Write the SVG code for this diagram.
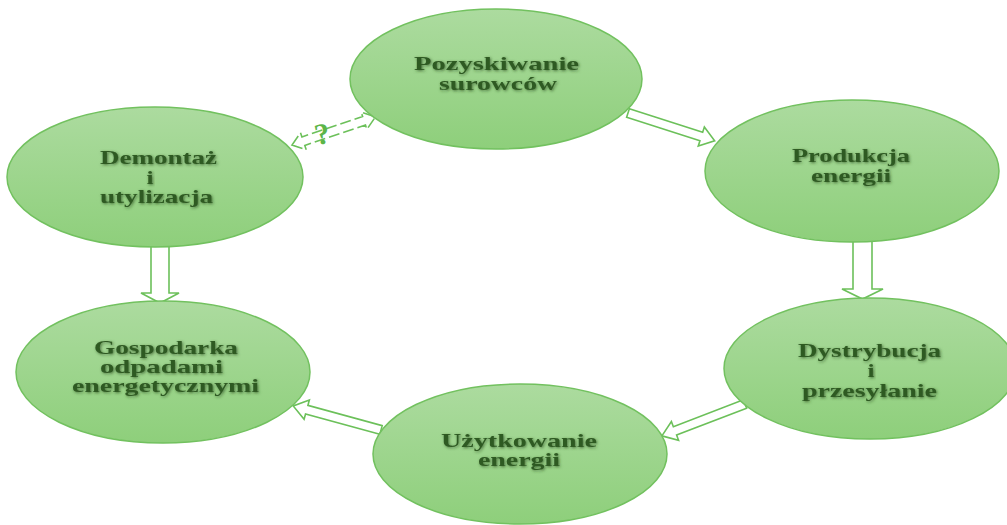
<svg xmlns="http://www.w3.org/2000/svg" width="1007" height="525" viewBox="0 0 1007 525">
<defs>
<linearGradient id="g" x1="0" y1="0" x2="0" y2="1">
<stop offset="0" stop-color="#acdb9f"/>
<stop offset="1" stop-color="#8ecf7b"/>
</linearGradient>
<filter id="sh" x="-10%" y="-30%" width="120%" height="160%">
<feGaussianBlur in="SourceAlpha" stdDeviation="1.4" result="b"/>
<feOffset in="b" dx="0.5" dy="1" result="o"/>
<feFlood flood-color="#2c4f1f" flood-opacity="0.75"/>
<feComposite in2="o" operator="in" result="s"/>
<feMerge><feMergeNode in="s"/><feMergeNode in="SourceGraphic"/></feMerge>
</filter>
</defs>
<style>
.node ellipse{fill:url(#g);stroke:#72c15f;stroke-width:1.5}
.node text{font-family:"Liberation Serif",serif;font-weight:bold;font-size:19px;fill:#2f5a24;text-anchor:middle;filter:url(#sh)}
.arr{fill:#ffffff;stroke:#6cc05a;stroke-width:1.6;stroke-linejoin:miter}
.dash{stroke-dasharray:11 4}
.q{font-family:"Liberation Serif",serif;font-weight:bold;font-size:30px;fill:#5cb548;text-anchor:middle}
</style>
<rect width="1007" height="525" fill="#ffffff"/>
<g id="connectors">
<polygon class="arr" transform="translate(628,113) rotate(17.8)" points="0,-4.5 77,-4.5 77,-10 91,0 77,10 77,4.5 0,4.5"/>
<polygon class="arr" points="853,232 872,232 872,289 883,289 862.5,299 842,289 853,289"/>
<polygon class="arr" transform="translate(745,404) rotate(159)" points="0,-4.5 75,-4.5 75,-10 89,0 75,10 75,4.5 0,4.5"/>
<polygon class="arr" transform="translate(381,430) rotate(195.3)" points="0,-4.5 77,-4.5 77,-10 91,0 77,10 77,4.5 0,4.5"/>
<polygon class="arr" points="151,238 169,238 169,293 179,293 160,303 141,293 151,293"/>
<polygon class="arr dash" transform="translate(292,145) rotate(-18.6)" points="0,0 12,-9 12,-4.5 76,-4.5 76,-9 88,0 76,9 76,4.5 12,4.5 12,9"/>
<text class="q" x="322" y="144" transform="rotate(-12 322 133)">?</text>
</g>
<g id="n1" class="node">
<ellipse cx="496" cy="79" rx="146" ry="70"/>
<text x="496.5" y="70" textLength="165" lengthAdjust="spacingAndGlyphs">Pozyskiwanie</text>
<text x="498" y="90" textLength="118" lengthAdjust="spacingAndGlyphs">surowców</text>
</g>
<g id="n2" class="node">
<ellipse cx="852" cy="171" rx="147" ry="71"/>
<text x="851" y="162" textLength="118" lengthAdjust="spacingAndGlyphs">Produkcja</text>
<text x="851" y="182" textLength="80" lengthAdjust="spacingAndGlyphs">energii</text>
</g>
<g id="n3" class="node">
<ellipse cx="870" cy="368.5" rx="146" ry="70.5"/>
<text x="869.5" y="357" textLength="143" lengthAdjust="spacingAndGlyphs">Dystrybucja</text>
<text x="871" y="377" textLength="7" lengthAdjust="spacingAndGlyphs">i</text>
<text x="869.5" y="397" textLength="135" lengthAdjust="spacingAndGlyphs">przesyłanie</text>
</g>
<g id="n4" class="node">
<ellipse cx="520" cy="454" rx="147" ry="70"/>
<text x="519" y="447" textLength="156" lengthAdjust="spacingAndGlyphs">Użytkowanie</text>
<text x="519" y="466" textLength="82" lengthAdjust="spacingAndGlyphs">energii</text>
</g>
<g id="n5" class="node">
<ellipse cx="163" cy="372" rx="147" ry="71"/>
<text x="166" y="354" textLength="144" lengthAdjust="spacingAndGlyphs">Gospodarka</text>
<text x="161.5" y="373" textLength="123" lengthAdjust="spacingAndGlyphs">odpadami</text>
<text x="165.5" y="392" textLength="187" lengthAdjust="spacingAndGlyphs">energetycznymi</text>
</g>
<g id="n6" class="node">
<ellipse cx="155" cy="177" rx="148" ry="70"/>
<text x="158.5" y="164" textLength="117" lengthAdjust="spacingAndGlyphs">Demontaż</text>
<text x="150" y="184" textLength="7" lengthAdjust="spacingAndGlyphs">i</text>
<text x="156.5" y="203" textLength="113" lengthAdjust="spacingAndGlyphs">utylizacja</text>
</g>
</svg>
